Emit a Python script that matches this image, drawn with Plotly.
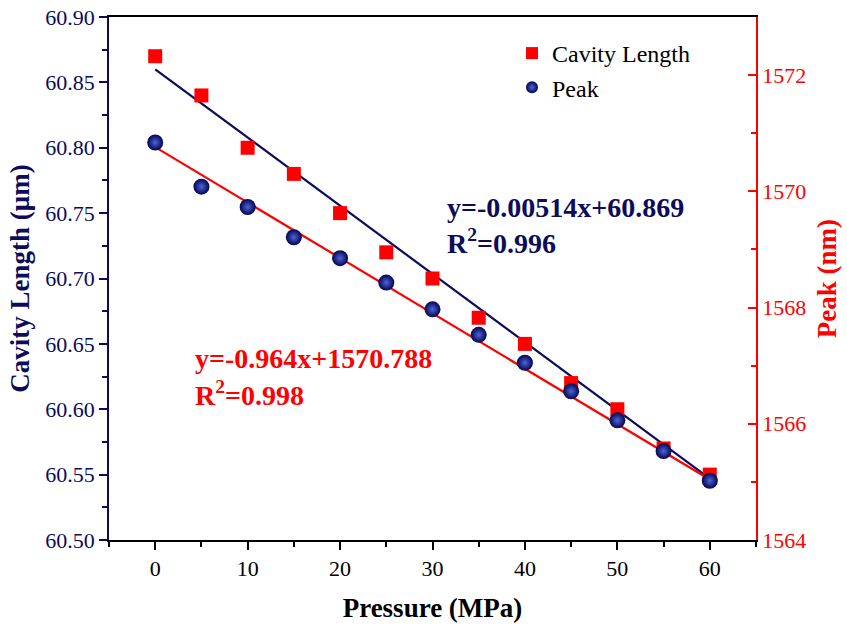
import plotly.graph_objects as go

pressure = [0, 5, 10, 15, 20, 25, 30, 35, 40, 45, 50, 55, 60]
cavity_length = [60.87, 60.84, 60.80, 60.78, 60.75, 60.72, 60.70, 60.67, 60.65, 60.62, 60.60, 60.57, 60.55]
peak = [1570.84, 1570.08, 1569.73, 1569.21, 1568.85, 1568.43, 1567.97, 1567.53, 1567.05, 1566.56, 1566.06, 1565.53, 1565.02]
fit_x = [0, 60]
fit_cavity = [60.860, 60.547]
fit_peak = [1570.76, 1565.04]
eq_cavity = "y=-0.00514x+60.869"
r2_cavity = "R<sup>2</sup>=0.996"
eq_peak = "y=-0.964x+1570.788"
r2_peak = "R<sup>2</sup>=0.998"

NAVY = "#0c0c5a"
RED = "#ff0000"
FONT = "Liberation Serif"

L, R, T, B = 109, 756, 17, 540

fig = go.Figure()
fig.add_trace(go.Scatter(x=fit_x, y=fit_cavity, mode="lines", line=dict(color=NAVY, width=2.2),
                         showlegend=False, hoverinfo="skip"))
fig.add_trace(go.Scatter(x=pressure, y=cavity_length, mode="markers", name="Cavity Length",
                         marker=dict(symbol="square", size=14, color=RED)))
fig.add_trace(go.Scatter(x=fit_x, y=fit_peak, mode="lines", line=dict(color=RED, width=2.2),
                         showlegend=False, hoverinfo="skip", yaxis="y2"))
fig.add_trace(go.Scatter(x=pressure, y=peak, mode="markers", name="Peak", yaxis="y2",
                         marker=dict(symbol="circle", size=16, color="#03034f",
                                     gradient=dict(type="radial", color="#4a66d8"),
                                     line=dict(width=0))))

fig.update_layout(
    width=847, height=624,
    margin=dict(l=L, r=847 - R, t=T, b=624 - B, autoexpand=False),
    plot_bgcolor="white", paper_bgcolor="white",
    font=dict(family=FONT, size=22, color="black"),
    showlegend=True,
    legend=dict(x=(512 - L) / (R - L), y=(B - 31) / (B - T), xanchor="left", yanchor="top",
                bgcolor="rgba(0,0,0,0)",
                font=dict(family=FONT, size=24, color="black"), itemsizing="constant",
                tracegroupgap=0),
    xaxis=dict(range=[-5, 65], tickvals=[0, 10, 20, 30, 40, 50, 60], ticks="outside", ticklen=8,
               tickwidth=1.5, tickcolor="black", showline=True, linecolor="black", linewidth=1.5,
               mirror=True, showgrid=False, zeroline=False, automargin=False,
               minor=dict(dtick=5, tick0=0, ticks="outside", ticklen=5, tickcolor="black", tickwidth=1.5),
               tickfont=dict(family=FONT, size=22, color="black"),
               title=dict(text="<b>Pressure (MPa)</b>", font=dict(family=FONT, size=27, color="black"),
                          standoff=18)),
    yaxis=dict(range=[60.50, 60.90], dtick=0.05, tick0=60.5, tickformat=".2f", ticks="outside", ticklen=8,
               tickwidth=1.5, tickcolor=NAVY, showline=True, linecolor=NAVY, linewidth=1.5,
               showgrid=False, zeroline=False, automargin=False,
               minor=dict(dtick=0.025, ticks="outside", ticklen=5, tickcolor=NAVY, tickwidth=1.5),
               tickfont=dict(family=FONT, size=22, color=NAVY),
               title=dict(text="<b>Cavity Length (μm)</b>", font=dict(family=FONT, size=27, color=NAVY),
                          standoff=8)),
    yaxis2=dict(range=[1564, 1573], overlaying="y", side="right", dtick=2, tick0=1564, ticks="inside",
                ticklen=8, tickwidth=1.5, tickcolor=RED, showline=True, linecolor=RED, linewidth=1.5,
                showgrid=False, zeroline=False, automargin=False,
                minor=dict(dtick=1, ticks="inside", ticklen=5, tickcolor=RED, tickwidth=1.5),
                tickfont=dict(family=FONT, size=22, color=RED),
                title=dict(text="<b>Peak (nm)</b>", font=dict(family=FONT, size=27, color=RED),
                           standoff=12)),
)

ann = [
    (eq_cavity, 445, 207, NAVY),
    (r2_cavity, 445, 242, NAVY),
    (eq_peak, 193, 358, RED),
    (r2_peak, 193, 393, RED),
]
for text, px, py, col in ann:
    fig.add_annotation(text="<b>" + text + "</b>", x=(px - L) / (R - L), y=(B - py) / (B - T),
                       xref="paper", yref="paper",
                       xanchor="left", yanchor="middle", showarrow=False,
                       font=dict(family=FONT, size=28, color=col))

fig.write_html("out.html")
